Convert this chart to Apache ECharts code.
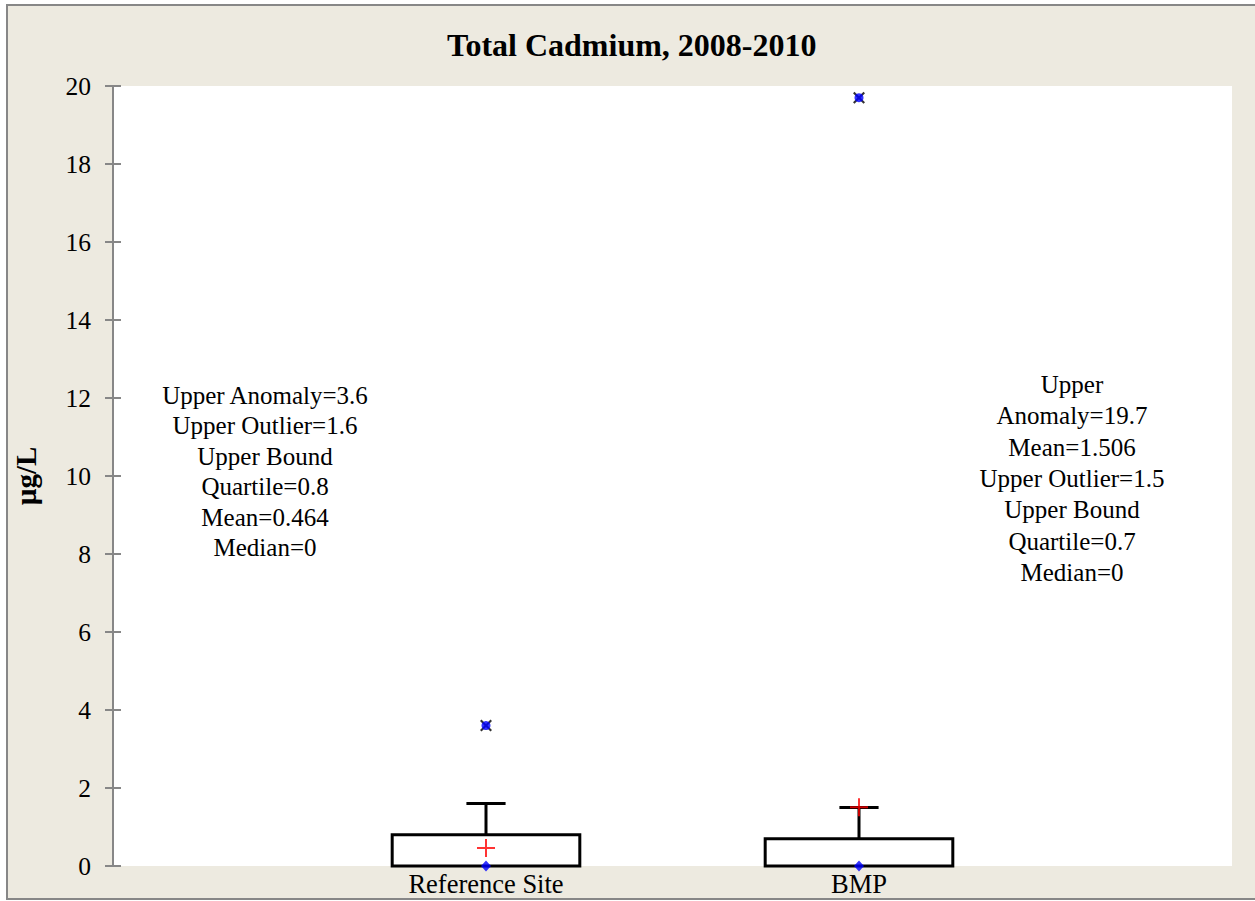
<!DOCTYPE html>
<html>
<head>
<meta charset="utf-8">
<script src="https://cdn.jsdelivr.net/npm/echarts@6/dist/echarts.min.js"></script>
<style>
  html, body { margin: 0; padding: 0; background: #fff; }
  #chart { width: 1255px; height: 901px; }
</style>
</head>
<body>
<div id="chart"></div>
<script>
// values
const categories = ['Reference Site', 'BMP'];
const q1Values = [0, 0];
const q3Values = [0.8, 0.7];
const upperOutliers = [1.6, 1.5];
const means = [0.464, 1.506];
const medians = [0, 0];
const anomalies = [3.6, 19.7];
const yMin = 0;
const yMax = 20;
const yStep = 2;
const leftNotes = ['Upper Anomaly=3.6', 'Upper Outlier=1.6', 'Upper Bound', 'Quartile=0.8', 'Mean=0.464', 'Median=0'];
const rightNotes = ['Upper', 'Anomaly=19.7', 'Mean=1.506', 'Upper Outlier=1.5', 'Upper Bound', 'Quartile=0.7', 'Median=0'];

const FONT = '"Liberation Serif", "Times New Roman", serif';
const AXIS_GREY = '#878787';

// padded ends so the two groups sit at 1/3 and 2/3 of the plot
const axisCats = ['', ...categories, ''];

const boxData = categories.map((c, i) => [c, q1Values[i], q3Values[i], upperOutliers[i]]);
const meanData = categories.map((c, i) => [c, means[i]]);
const medianData = categories.map((c, i) => [c, medians[i]]);
const anomalyData = categories.map((c, i) => [c, anomalies[i]]);

const plusPath = 'path://M8,0h2v8h8v2h-8v8h-2v-8h-8v-2h8z';
const crossPath = 'path://M1.5,0L6,4.5L10.5,0L12,1.5L7.5,6L12,10.5L10.5,12L6,7.5L1.5,12L0,10.5L4.5,6L0,1.5z';

const chart = echarts.init(document.getElementById('chart'), null, { renderer: 'svg' });

chart.setOption({
  backgroundColor: '#fff',
  animation: false,
  title: {
    text: 'Total Cadmium, 2008-2010',
    left: 442,
    top: 24,
    textStyle: { fontFamily: FONT, fontSize: 32, fontWeight: 'bold', color: '#000' }
  },
  graphic: [
    {
      type: 'rect',
      z: -100,
      shape: { x: 7, y: 5, width: 1260, height: 894 },
      style: { fill: '#EDEAE0', stroke: AXIS_GREY, lineWidth: 2 }
    },
    {
      type: 'text',
      x: 265, y: 380,
      style: {
        text: leftNotes.join('\n'),
        font: '25px ' + FONT,
        lineHeight: 30.5,
        fill: '#000',
        textAlign: 'center',
        textVerticalAlign: 'top'
      }
    },
    {
      type: 'text',
      x: 1072, y: 369,
      style: {
        text: rightNotes.join('\n'),
        font: '25px ' + FONT,
        lineHeight: 31.3,
        fill: '#000',
        textAlign: 'center',
        textVerticalAlign: 'top'
      }
    }
  ],
  grid: {
    left: 113, right: 23, top: 86, bottom: 35,
    show: true, backgroundColor: '#fff', borderWidth: 0
  },
  xAxis: {
    type: 'category',
    data: axisCats,
    boundaryGap: false,
    axisLine: { show: false },
    axisTick: { show: false },
    splitLine: { show: false },
    axisLabel: { interval: 0, margin: 4, fontFamily: FONT, fontSize: 26.5, color: '#000' }
  },
  yAxis: [
    {
      type: 'value',
      min: yMin, max: yMax, interval: yStep,
      name: 'µg/L',
      nameLocation: 'middle',
      nameGap: 73,
      nameTextStyle: { fontFamily: FONT, fontSize: 29, fontWeight: 'bold', color: '#000' },
      axisLine: { show: true, lineStyle: { color: AXIS_GREY, width: 2 } },
      axisTick: { show: true, length: 8, lineStyle: { color: AXIS_GREY, width: 2 } },
      splitLine: { show: false },
      axisLabel: { margin: 22, fontFamily: FONT, fontSize: 25.5, color: '#000' }
    },
    {
      // inner half of the cross ticks
      type: 'value',
      position: 'left',
      min: yMin, max: yMax, interval: yStep,
      axisLine: { show: false },
      axisTick: { show: true, inside: true, length: 8, lineStyle: { color: AXIS_GREY, width: 2 } },
      axisLabel: { show: false },
      splitLine: { show: false }
    }
  ],
  series: [
    {
      type: 'custom',
      clip: false,
      encode: { x: 0, y: [1, 2, 3] },
      data: boxData,
      renderItem: (params, api) => {
        const x = api.value(0);
        const lo = api.coord([x, api.value(1)]);
        const hi = api.coord([x, api.value(2)]);
        const top = api.coord([x, api.value(3)]);
        const band = api.size([1, 0])[0];
        const bw = band * 0.503;
        const cw = band * 0.105;
        const line = { stroke: '#000', lineWidth: 3, fill: null };
        return {
          type: 'group',
          children: [
            { type: 'line', shape: { x1: top[0], y1: hi[1], x2: top[0], y2: top[1] }, style: line },
            { type: 'line', shape: { x1: top[0] - cw / 2, y1: top[1], x2: top[0] + cw / 2, y2: top[1] }, style: line },
            { type: 'rect', shape: { x: lo[0] - bw / 2, y: hi[1], width: bw, height: lo[1] - hi[1] }, style: { stroke: '#000', lineWidth: 3, fill: 'none' } }
          ]
        };
      },
      z: 2
    },
    {
      type: 'scatter',
      name: 'Mean',
      data: meanData,
      symbol: plusPath,
      symbolSize: 18,
      itemStyle: { color: '#FF0000' },
      clip: false,
      z: 3
    },
    {
      type: 'scatter',
      name: 'Median',
      data: medianData,
      symbol: 'diamond',
      symbolSize: [10, 11],
      itemStyle: { color: '#0000FF' },
      clip: false,
      z: 4
    },
    {
      type: 'scatter',
      name: 'Anomaly cross',
      data: anomalyData,
      symbol: crossPath,
      symbolSize: 12,
      itemStyle: { color: '#000' },
      z: 3
    },
    {
      type: 'scatter',
      name: 'Anomaly',
      data: anomalyData,
      symbol: 'circle',
      symbolSize: 9,
      itemStyle: { color: '#0000FF' },
      z: 4
    }
  ]
});
</script>
</body>
</html>
